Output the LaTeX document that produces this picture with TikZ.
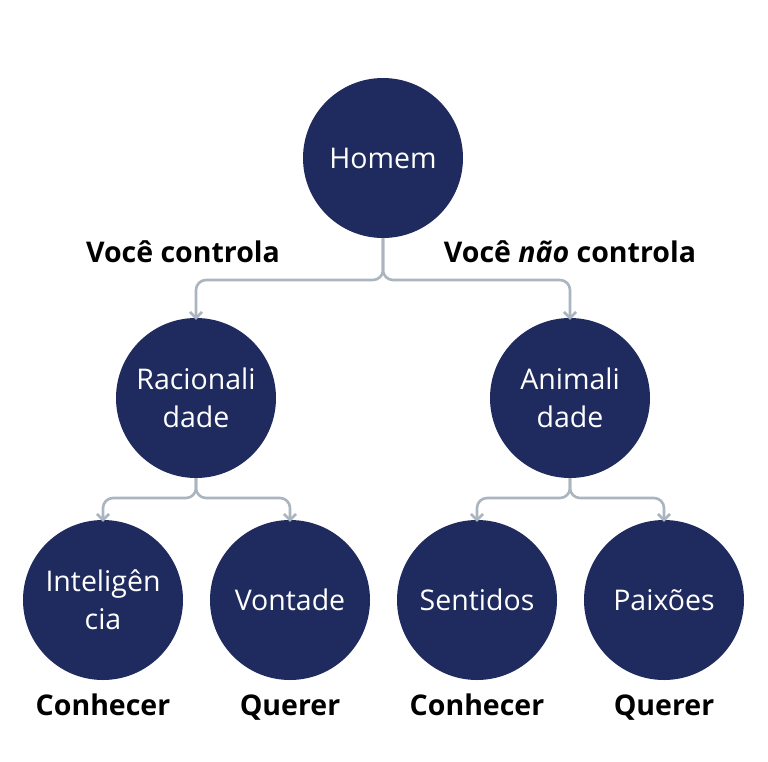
\documentclass[tikz,border=0pt]{standalone}
\usepackage{fontspec}
\setmainfont{Open Sans}
\usetikzlibrary{arrows.meta}
\definecolor{navy}{RGB}{31,43,94}
\definecolor{conn}{RGB}{170,181,191}
\tikzset{
  bub/.style={circle, fill=navy, minimum size=160pt, inner sep=0pt, text=white, align=center, font=\fontsize{28.5}{38}\selectfont},
  lab/.style={inner sep=0pt, anchor=base, font=\fontsize{28.5}{32}\selectfont\bfseries, text=black},
  link/.style={draw=conn, line width=2.6pt, rounded corners=10pt, -{Straight Barb[length=6pt,width=12pt,line width=2.6pt]}}
}
\begin{document}
\begin{tikzpicture}[x=1pt,y=-1pt]
\path[fill=white] (0,0) rectangle (768,761);
\useasboundingbox (0,0) rectangle (768,761);
\node[bub] (homem) at (383,158) {Homem};
\node[bub] (rac) at (196,398) {Racionali\\dade};
\node[bub] (ani) at (570,398) {Animali\\dade};
\node[bub] (int) at (103,600) {Inteligên\\cia};
\node[bub] (von) at (290,600) {Vontade};
\node[bub] (sen) at (477,600) {Sentidos};
\node[bub] (pai) at (664,600) {Paixões};
\node[lab] (l1) at (183,262) {Você controla};
\node[lab] (l2) at (570,262) {Você \textit{não} controla};
\node[lab] (c1) at (103,715) {Conhecer};
\node[lab] (q1) at (290,715) {Querer};
\node[lab] (c2) at (477,715) {Conhecer};
\node[lab] (q2) at (664,715) {Querer};
\coordinate (j0) at (383,280);
\coordinate (j1) at (196,498);
\coordinate (j2) at (570,498);
\draw[link] (homem.south) -- (j0) -| ([yshift=-2pt]rac.north);
\draw[link] (homem.south) -- (j0) -| ([yshift=-2pt]ani.north);
\draw[link] (rac.south) -- (j1) -| ([yshift=-2pt]int.north);
\draw[link] (rac.south) -- (j1) -| ([yshift=-2pt]von.north);
\draw[link] (ani.south) -- (j2) -| ([yshift=-2pt]sen.north);
\draw[link] (ani.south) -- (j2) -| ([yshift=-2pt]pai.north);
\end{tikzpicture}
\end{document}
